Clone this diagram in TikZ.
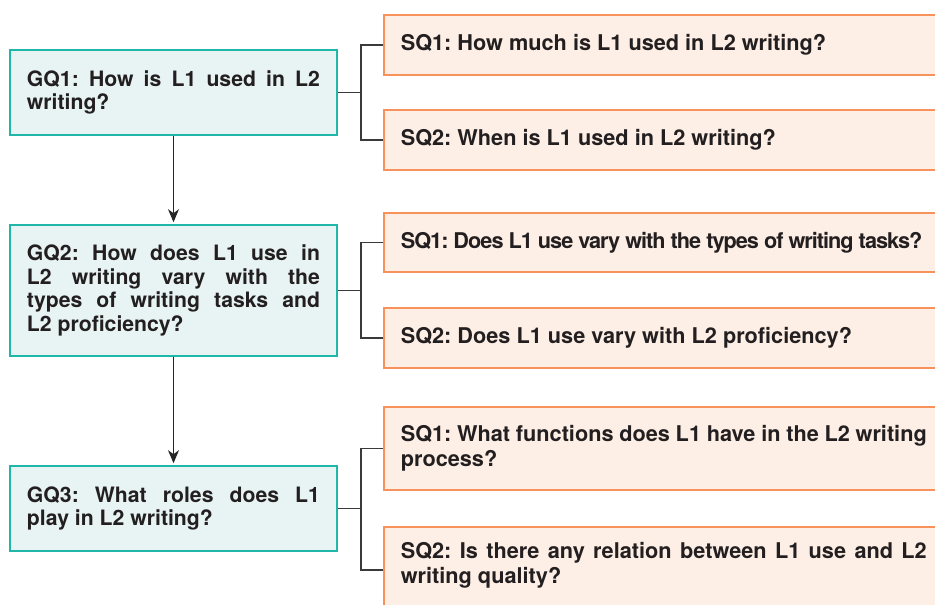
\documentclass[tikz,border=0pt]{standalone}
\usepackage{fontspec}
\setmainfont{TeX Gyre Heros}
\newfontfamily\tightfont{TeX Gyre Heros Bold}[LetterSpace=-4.6]
\usetikzlibrary{arrows.meta,calc}
\tolerance=10000
\hbadness=10000
\frenchspacing
\definecolor{gqfill}{HTML}{E8F4F3}
\definecolor{gqline}{HTML}{1FB7A7}
\definecolor{sqfill}{HTML}{FDEFE5}
\definecolor{sqline}{HTML}{F6925A}
\definecolor{txt}{HTML}{231F20}
\definecolor{conncol}{HTML}{3A3A3A}
\begin{document}
\begin{tikzpicture}[x=1pt,y=-1pt,
  gqbox/.style={draw=gqline, fill=gqfill, line width=1.6pt, inner xsep=17pt, inner ysep=0pt,
    text width=293pt, minimum width=327pt, align=justify, text=txt,
    font=\frenchspacing\bfseries\fontsize{21.2}{23.7}\selectfont},
  sqbox/.style={draw=sqline, fill=sqfill, line width=1.6pt, inner xsep=17pt, inner ysep=0pt,
    text width=526pt, align=justify, text=txt, anchor=west,
    font=\frenchspacing\bfseries\fontsize{21.7}{25}\selectfont},
  conn/.style={draw=conncol, line width=1.4pt},
  arr/.style={draw=black!85, line width=1.5pt, -{Stealth[length=13pt,width=11pt,inset=4pt]}, shorten >=2pt}
]
\useasboundingbox (0,0) rectangle (935,605);
\clip (0,0) rectangle (935,605);

% general questions
\node[gqbox, minimum height=85pt] (gq1) at (173.5,92.5)
  {GQ1: How is L1 used in L2\linebreak writing?};
\node[gqbox, minimum height=131pt] (gq2) at (173.5,290.5)
  {GQ2: How does L1 use in\linebreak L2 writing vary with the\linebreak types of writing tasks and\linebreak L2 proficiency?};
\node[gqbox, minimum height=85pt] (gq3) at (173.5,508.5)
  {GQ3: What roles does L1\linebreak play in L2 writing?};

% sub-questions
\node[sqbox, minimum height=60pt] (sq11) at (383,45)
  {SQ1: How much is L1 used in L2 writing?};
\node[sqbox, minimum height=60pt] (sq12) at (383,140)
  {SQ2: When is L1 used in L2 writing?};
\node[sqbox, minimum height=59pt] (sq21) at (383,242.5)
  {\mbox{\tightfont SQ1: Does L1 use vary with the types of writing tasks?}};
\node[sqbox, minimum height=60pt] (sq22) at (383,338)
  {SQ2: Does L1 use vary with L2 proficiency?};
\node[sqbox, minimum height=83pt] (sq31) at (383,448.5)
  {SQ1: What functions does L1 have in the L2 writing\linebreak process?};
\node[sqbox, anchor=north west, inner ysep=16pt, text depth=60pt] (sq32) at (383,526)
  {SQ2: Is there any relation between L1 use and L2\linebreak writing quality?};

% arrows between general questions
\draw[arr] (gq1.south) -- (gq2.north);
\draw[arr] (gq2.south) -- (gq3.north);

% brackets
\draw[conn] (gq1.east) -- ++(24,0);
\draw[conn] (sq11.west) -- ++(-22,0) |- (sq12.west);
\draw[conn] (gq2.east) -- ++(24,0);
\draw[conn] (sq21.west) -- ++(-22,0) |- (sq22.west);
\draw[conn] (gq3.east) -- ++(24,0);
\draw[conn] (sq31.west) -- ++(-22,0) |- ($(sq32.north west)+(0,44)$);
\end{tikzpicture}
\end{document}
